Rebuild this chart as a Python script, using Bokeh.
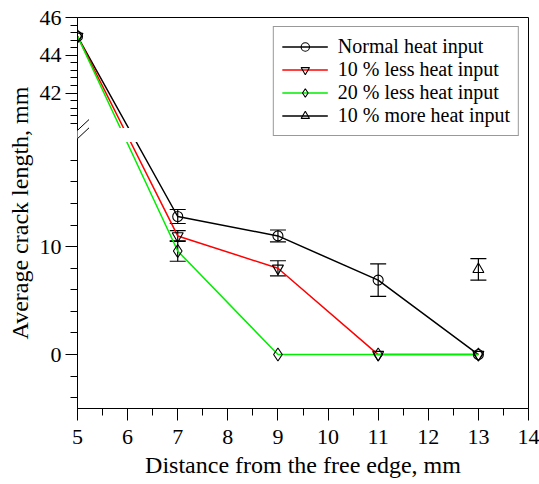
from bokeh.plotting import figure
from bokeh.models import (Range1d, FixedTicker, ColumnDataSource, Whisker, TeeHead,
                          Legend, LegendItem, BoxAnnotation, PolyAnnotation, Arrow,
                          CustomJSTransform)
from bokeh.transform import transform
from bokeh.embed import file_html
from bokeh.resources import INLINE

# ---------------- data ----------------
x_normal = [5, 7, 9, 11, 13]
y_normal = [45, 12.8, 11.0, 6.9, 0]
e_normal = [0, 0.65, 0.55, 1.5, 0]

x_less10 = [5, 7, 9, 11, 13]
y_less10 = [45, 11.0, 8.0, 0, 0]
e_less10 = [0, 0.5, 0.7, 0, 0]

x_less20 = [5, 7, 9, 11, 13]
y_less20 = [45, 9.6, 0, 0, 0]
e_less20 = [0, 0.95, 0, 0, 0]

x_more10 = [13]
y_more10 = [7.9]
e_more10 = [1.0]

labels = ["Normal heat input", "10 % less heat input",
          "20 % less heat input", "10 % more heat input"]

x_ticks = [5, 6, 7, 8, 9, 10, 11, 12, 13, 14]
y_low_major = [0, 10]
y_low_minor = [-4, -2, 2, 4, 6, 8, 12, 14, 16, 18]
y_up_major = [42, 44, 46]
y_up_minor = [40.4, 40.8, 41.2, 41.6, 42.4, 42.8, 43.2, 43.6,
              44.4, 44.8, 45.2, 45.6]

# ---------------- broken y scale ----------------
LOW_TOP = 20.0      # top of lower segment (value)
UP_BOTTOM = 40.0    # bottom of upper segment (value)
UP_START = 20.75    # display position of UP_BOTTOM
UP_SCALE = 1.75     # stretch of upper segment


def brk(v):
    return v if v <= LOW_TOP else UP_START + (v - UP_BOTTOM) * UP_SCALE


ybreak = CustomJSTransform(
    func=f"return x <= {LOW_TOP} ? x : {UP_START} + (x - {UP_BOTTOM}) * {UP_SCALE};",
    v_func=f"""
const out = new Array(xs.length);
for (let i = 0; i < xs.length; i++) {{
  const v = xs[i];
  out[i] = v <= {LOW_TOP} ? v : {UP_START} + (v - {UP_BOTTOM}) * {UP_SCALE};
}}
return out;
""")

FONT = "Liberation Serif"
GREEN = "#00ee00"

p = figure(width=539, height=484,
           x_range=Range1d(5, 14), y_range=Range1d(-5, brk(46)),
           output_backend="svg", toolbar_location=None,
           min_border_left=77, min_border_right=11,
           min_border_top=17, min_border_bottom=76)
p.xgrid.visible = False
p.ygrid.visible = False
p.outline_line_color = "black"
p.outline_line_width = 1
p.background_fill_color = "white"
p.border_fill_color = "white"

# axes
p.xaxis.ticker = FixedTicker(ticks=x_ticks,
                             minor_ticks=[t + 0.5 for t in x_ticks[:-1]])
p.yaxis.ticker = FixedTicker(ticks=[brk(v) for v in y_low_major + y_up_major],
                             minor_ticks=[brk(v) for v in y_low_minor + y_up_minor])
p.yaxis.major_label_overrides = {brk(v): str(v) for v in y_low_major + y_up_major}

for ax in (p.xaxis[0], p.yaxis[0]):
    ax.axis_line_color = "black"
    ax.major_tick_line_color = "black"
    ax.minor_tick_line_color = "black"
    ax.major_tick_in = 0
    ax.minor_tick_in = 0
    ax.major_tick_out = 12
    ax.minor_tick_out = 7
    ax.major_label_text_font = FONT
    ax.major_label_text_font_size = "22px"
    ax.major_label_text_color = "black"
    ax.axis_label_text_font = FONT
    ax.axis_label_text_font_size = "24px"
    ax.axis_label_text_font_style = "normal"
    ax.axis_label_text_color = "black"

p.xaxis.axis_label = "Distance from the free edge, mm"
p.yaxis.axis_label = "Average crack length, mm"
p.xaxis.major_label_standoff = 9
p.xaxis.axis_label_standoff = 5
p.yaxis.major_label_standoff = 4
p.yaxis.axis_label_standoff = 4

# ---------------- series ----------------
# (x, y, err, line colour, marker, size)
series = [
    (x_normal, y_normal, e_normal, "black", "circle", 10),
    (x_less10, y_less10, e_less10, "red", "inverted_triangle", 11),
    (x_less20, y_less20, e_less20, GREEN, "diamond", 13),
    (x_more10, y_more10, e_more10, "black", "triangle", 11),
]

line_rs = []
for xs, ys, es, col, mk, sz in series:
    src = ColumnDataSource(dict(x=xs, y=ys))
    lr = p.line("x", transform("y", ybreak), source=src,
                line_color=col, line_width=1.5)
    line_rs.append(lr)

# white gap of the break across the data area
p.add_layout(BoxAnnotation(left=5.02, right=13.98, bottom=19.7, top=21.0,
                           fill_color="white", fill_alpha=1.0,
                           line_color=None, level="annotation"))

legend_items = []
for (xs, ys, es, col, mk, sz), lr, lab in zip(series, line_rs, labels):
    wx = [x for x, e in zip(xs, es) if e > 0]
    wy = [y for y, e in zip(ys, es) if e > 0]
    we = [e for e in es if e > 0]
    if wx:
        wsrc = ColumnDataSource(dict(x=wx,
                                     lo=[y - e for y, e in zip(wy, we)],
                                     hi=[y + e for y, e in zip(wy, we)]))
        w = Whisker(base="x", lower=transform("lo", ybreak),
                    upper=transform("hi", ybreak), source=wsrc,
                    line_color="black", line_width=1.2,
                    upper_head=TeeHead(size=16, line_color="black", line_width=1.2),
                    lower_head=TeeHead(size=16, line_color="black", line_width=1.2))
        p.add_layout(w)
    src = ColumnDataSource(dict(x=xs, y=ys))
    sr = p.scatter("x", transform("y", ybreak), source=src, marker=mk, size=sz,
                   fill_color=None, line_color="black", line_width=1.1)
    legend_items.append(LegendItem(label=lab, renderers=[lr, sr]))

# ---------------- axis break symbol ----------------
bx0, bx1 = 4.747, 5.23
p.add_layout(PolyAnnotation(xs=[bx0, bx1, bx1, bx0], ys=[19.69, 21.79, 21.02, 18.92],
                            fill_color="white", fill_alpha=1.0,
                            line_color=None, level="overlay"))
p.add_layout(Arrow(end=None, x_start=bx0, y_start=19.69, x_end=bx1, y_end=21.79,
                   line_color="black", line_width=1, level="overlay"))
p.add_layout(Arrow(end=None, x_start=bx0, y_start=18.92, x_end=bx1, y_end=21.02,
                   line_color="black", line_width=1, level="overlay"))

# ---------------- legend ----------------
legend = Legend(items=legend_items, location="top_right",
                label_text_font=FONT, label_text_font_size="20px",
                label_text_color="black",
                glyph_width=46, glyph_height=21, label_height=21,
                label_standoff=10, spacing=0, padding=8, margin=9,
                border_line_color="#333333", border_line_width=1,
                background_fill_color="white", background_fill_alpha=1.0)
p.add_layout(legend)

open("out.html", "w").write(file_html(p, INLINE))
